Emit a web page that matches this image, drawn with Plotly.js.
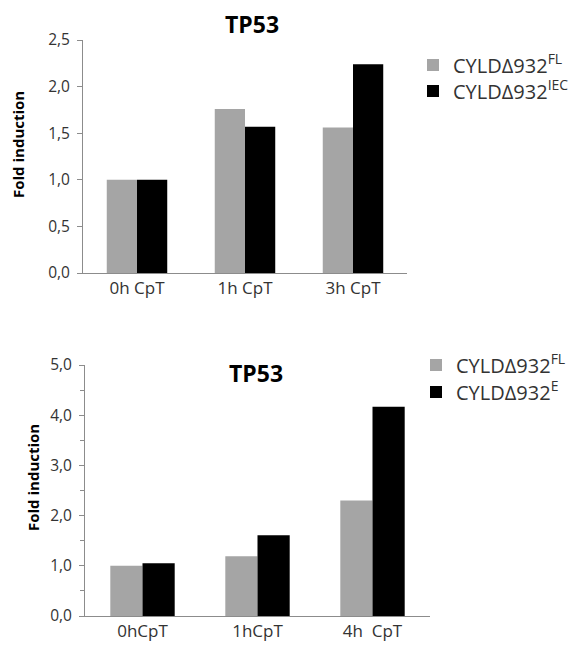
<!DOCTYPE html>
<html>
<head>
<meta charset="utf-8">
<script src="https://cdn.plot.ly/plotly-3.0.1.min.js"></script>
<style>html,body{margin:0;padding:0;background:#fff;}#chart{width:581px;height:648px;}</style>
</head>
<body>
<div id="chart"></div>
<script>
// ---- data ----
const topCategories = ["0h CpT", "1h CpT", "3h CpT"];
const topFL = [1.0, 1.76, 1.56];
const topIEC = [1.0, 1.57, 2.24];

const bottomCategories = ["0hCpT", "1hCpT", "4h\u00a0\u00a0CpT"];
const bottomFL = [1.0, 1.19, 2.3];
const bottomE = [1.05, 1.61, 4.17];

const seriesNames = {
  fl: "CYLD\u0394932<sup>FL</sup>",
  iec: "CYLD\u0394932<sup>IEC</sup>",
  e: "CYLD\u0394932<sup>E</sup>"
};
const chartTitle = "TP53";
const yTitle = "Fold induction";

// ---- styles ----
const GREY = "#a5a5a5";
const BLACK = "#000000";
const FONT = "Open Sans, DejaVu Sans, sans-serif";
const TXT = "#333333";
const W = 581, H = 648;
const px = v => v / W;
const py = v => 1 - v / H;

const traces = [
  {type: "bar", x: topCategories, y: topFL, name: seriesNames.fl,
   marker: {color: GREY}, xaxis: "x", yaxis: "y", legend: "legend"},
  {type: "bar", x: topCategories, y: topIEC, name: seriesNames.iec,
   marker: {color: BLACK}, xaxis: "x", yaxis: "y", legend: "legend2"},
  {type: "bar", x: bottomCategories, y: bottomFL, name: seriesNames.fl,
   marker: {color: GREY}, xaxis: "x2", yaxis: "y2", legend: "legend3"},
  {type: "bar", x: bottomCategories, y: bottomE, name: seriesNames.e,
   marker: {color: BLACK}, xaxis: "x2", yaxis: "y2", legend: "legend4"}
];

const xBase = {
  type: "category", showline: true, linecolor: "#8c8c8c", linewidth: 1,
  showgrid: false, zeroline: false, ticks: "", fixedrange: true,
  tickfont: {family: FONT, size: 17, color: TXT}
};
const yBase = {
  showline: true, linecolor: "#8c8c8c", linewidth: 1, showgrid: false,
  zeroline: false, ticks: "outside", ticklen: 5, tickcolor: "#8c8c8c",
  tickformat: ".1f", fixedrange: true, ticklabelstandoff: 4,
  tickfont: {family: FONT, size: 15.5, color: TXT}
};
const legBase = {xanchor: "left", yanchor: "middle",
  font: {family: FONT, size: 20, color: TXT}, bgcolor: "rgba(0,0,0,0)"};

const layout = {
  width: W, height: H,
  margin: {l: 0, r: 0, t: 0, b: 0},
  paper_bgcolor: "#fff", plot_bgcolor: "#fff",
  separators: ",.",
  barmode: "group", bargap: 0.44, bargroupgap: 0,
  font: {family: FONT, color: TXT},
  xaxis: Object.assign({}, xBase, {domain: [px(83), px(407)], anchor: "y"}),
  yaxis: Object.assign({}, yBase, {domain: [py(273), py(40)], range: [0, 2.5], dtick: 0.5, anchor: "x"}),
  xaxis2: Object.assign({}, xBase, {domain: [px(85), px(430)], anchor: "y2"}),
  yaxis2: Object.assign({}, yBase, {domain: [py(616), py(365)], range: [0, 5], dtick: 1, anchor: "x2",
    minor: {dtick: 0.5, ticks: "outside", ticklen: 4, tickcolor: "#8c8c8c"}}),
  legend: Object.assign({}, legBase, {x: px(413), y: py(65)}),
  legend2: Object.assign({}, legBase, {x: px(413), y: py(91)}),
  legend3: Object.assign({}, legBase, {x: px(416), y: py(365)}),
  legend4: Object.assign({}, legBase, {x: px(416), y: py(392)}),
  showlegend: true,
  annotations: [
    {text: "<b>" + chartTitle + "</b>", xref: "paper", yref: "paper", x: px(252), y: py(24),
     xanchor: "center", yanchor: "middle", showarrow: false, font: {family: FONT, size: 23, color: "#000"}},
    {text: "<b>" + chartTitle + "</b>", xref: "paper", yref: "paper", x: px(256), y: py(373),
     xanchor: "center", yanchor: "middle", showarrow: false, font: {family: FONT, size: 23, color: "#000"}},
    {text: "<b>" + yTitle + "</b>", xref: "paper", yref: "paper", x: px(18), y: py(145), textangle: -90,
     xanchor: "center", yanchor: "middle", showarrow: false, font: {family: FONT, size: 15, color: "#000"}},
    {text: "<b>" + yTitle + "</b>", xref: "paper", yref: "paper", x: px(33), y: py(478), textangle: -90,
     xanchor: "center", yanchor: "middle", showarrow: false, font: {family: FONT, size: 15, color: "#000"}}
  ]
};

Plotly.newPlot("chart", traces, layout, {displayModeBar: false, staticPlot: true});
</script>
</body>
</html>
